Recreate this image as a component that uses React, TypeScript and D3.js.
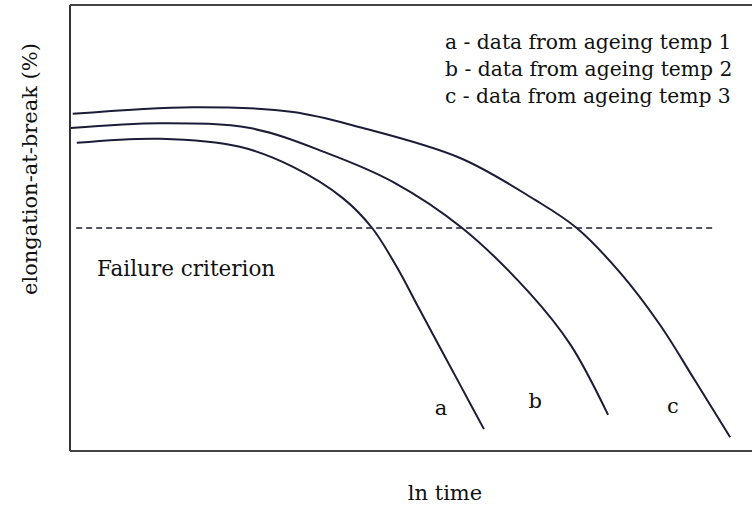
import React from "react";
import * as d3 from "d3";

// Elongation-at-break (%) against ln time for three ageing temperatures
const curveA: [number, number][] = [
  [0.1, 69.1], [1.32, 70.0], [2.49, 68.2], [3.27, 63.7], [4.0, 56.7], [4.43, 50.0],
  [4.79, 41.3], [5.13, 31.6], [5.76, 13.7], [6.07, 4.9],
];
const curveB: [number, number][] = [
  [0.01, 72.4], [1.32, 73.5], [2.64, 72.4], [3.77, 66.8], [4.74, 60.3],
  [5.75, 50.0], [6.74, 35.4], [7.34, 23.8], [7.89, 8.1],
];
const curveC: [number, number][] = [
  [0.04, 75.6], [1.8, 77.1], [3.27, 76.0], [4.25, 72.6], [5.72, 65.7], [6.82, 56.3],
  [7.43, 50.0], [8.06, 40.1], [8.65, 28.3], [9.16, 15.9], [9.68, 3.1],
];
const seriesNames = ["a", "b", "c"];
const seriesData = [curveA, curveB, curveC];
const seriesLabelAt: [number, number][] = [[5.44, 8.1], [6.82, 9.6], [8.84, 8.5]];
const legendLines = [
  "a - data from ageing temp 1",
  "b - data from ageing temp 2",
  "c - data from ageing temp 3",
];
const failureLevel = 50;
const failureSpan: [number, number] = [0.09, 9.47];
const failureText = "Failure criterion";
const xTitle = "ln time";
const yTitle = "elongation-at-break (%)";

const W = 753;
const H = 526;
const plot = { left: 70, right: 752, top: 5, bottom: 451 };
const ink = "#1c1c38";
const font = "'DejaVu Serif', serif";
const fs = 21;

export default function App() {
  const x = d3.scaleLinear().domain([0, 10]).range([plot.left, plot.right]);
  const y = d3.scaleLinear().domain([0, 100]).range([plot.bottom, plot.top]);
  const line = d3
    .line<[number, number]>()
    .x((d) => x(d[0]))
    .y((d) => y(d[1]))
    .curve(d3.curveCatmullRom.alpha(0.5));

  return (
    <svg
      width={W}
      height={H}
      style={{ position: "absolute", left: 0, top: 0, background: "#fff", fontFamily: font }}
    >
      {/* frame: left, top and bottom edges */}
      <line x1={plot.left} x2={plot.left} y1={plot.top} y2={plot.bottom} stroke="#333" strokeWidth={2} />
      <line x1={plot.left} x2={plot.right} y1={plot.top} y2={plot.top} stroke="#444" strokeWidth={2} />
      <line x1={plot.left} x2={plot.right} y1={plot.bottom} y2={plot.bottom} stroke="#444" strokeWidth={2} />

      {/* failure criterion */}
      <line
        x1={x(failureSpan[0])}
        x2={x(failureSpan[1])}
        y1={y(failureLevel)}
        y2={y(failureLevel)}
        stroke={ink}
        strokeWidth={1.6}
        strokeDasharray="6,4"
      />
      <text x={97} y={276} fontSize={fs + 0.5} fill="#111">{failureText}</text>

      {seriesData.map((d, i) => (
        <path key={i} d={line(d) || ""} fill="none" stroke={ink} strokeWidth={2} />
      ))}
      {seriesNames.map((n, i) => (
        <text
          key={n}
          x={x(seriesLabelAt[i][0])}
          y={y(seriesLabelAt[i][1])}
          fontSize={fs}
          textAnchor="middle"
          fill="#111"
        >
          {n}
        </text>
      ))}

      {legendLines.map((t, i) => (
        <text key={t} x={445} y={49 + i * 27} fontSize={fs - 0.7} fill="#111">{t}</text>
      ))}

      <text x={445} y={500} fontSize={fs} textAnchor="middle" fill="#111">{xTitle}</text>
      <text
        transform={`translate(37, 169) rotate(-90)`}
        fontSize={fs}
        textAnchor="middle"
        fill="#111"
      >
        {yTitle}
      </text>
    </svg>
  );
}
